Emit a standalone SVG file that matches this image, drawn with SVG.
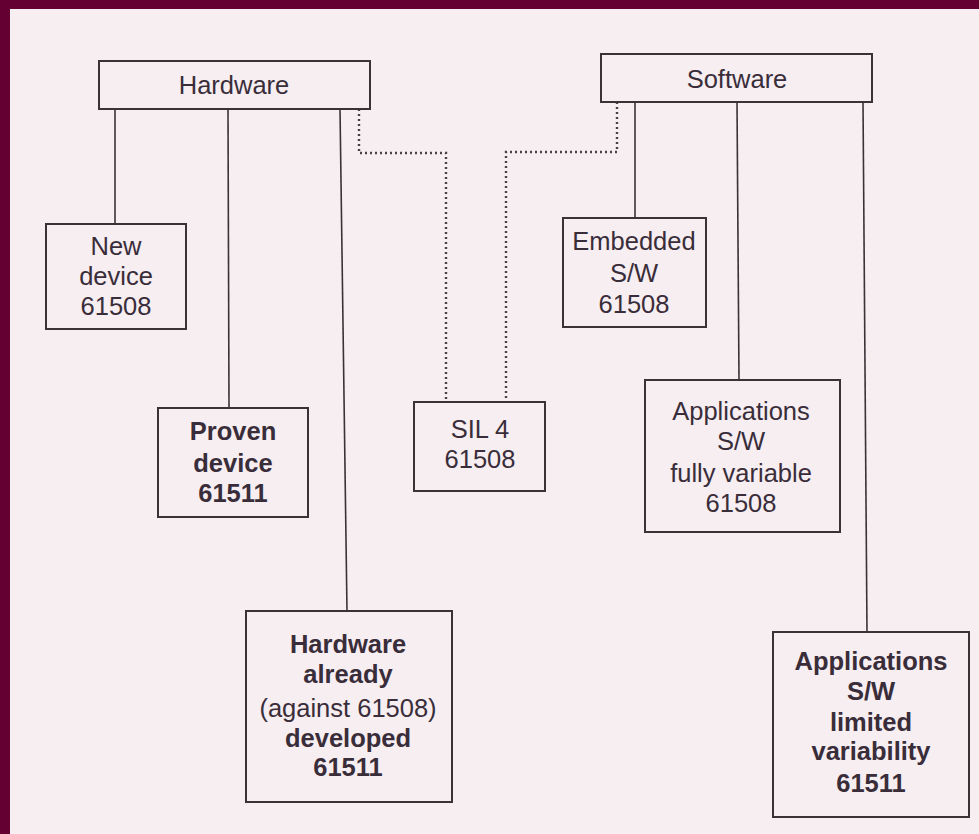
<svg xmlns="http://www.w3.org/2000/svg" width="979" height="834" viewBox="0 0 979 834">
<style>
.box{fill:none;stroke:#3b3238;stroke-width:2}
.ln{fill:none;stroke:#3b3238;stroke-width:1.6}
.dot{fill:none;stroke:#4a4048;stroke-width:2.4;stroke-dasharray:2 3}
text{font-family:"Liberation Sans",Arial,Helvetica,sans-serif;font-size:25.5px;fill:#3a2d3a;text-anchor:middle}
.b{font-weight:bold}
</style>
<rect x="0" y="0" width="979" height="834" fill="#f6eef1"/>
<rect x="0" y="0" width="979" height="9" fill="#650032"/>
<rect x="0" y="0" width="10" height="834" fill="#650032"/>
<g id="connectors">
<line class="ln" x1="115" y1="109" x2="115" y2="224"/>
<line class="ln" x1="228" y1="109" x2="229" y2="408"/>
<line class="ln" x1="340" y1="109" x2="347" y2="611"/>
<polyline class="dot" points="359,109 359,153 446,153 446,402"/>
<polyline class="dot" points="617,102 617,152 506,152 506,402"/>
<line class="ln" x1="635" y1="102" x2="635" y2="218"/>
<line class="ln" x1="737" y1="102" x2="739" y2="380"/>
<line class="ln" x1="863" y1="102" x2="867" y2="632"/>
</g>
<g id="hardware">
<rect class="box" x="99" y="61" width="271" height="48" fill="#f8f1f4"/>
<text x="234" y="94">Hardware</text>
</g>
<g id="software">
<rect class="box" x="601" y="54" width="271" height="48" fill="#f8f1f4"/>
<text x="737" y="88">Software</text>
</g>
<g id="new-device">
<rect class="box" x="46" y="224" width="140" height="105"/>
<text x="116" y="255">New</text>
<text x="116" y="285">device</text>
<text x="116" y="315">61508</text>
</g>
<g id="proven-device">
<rect class="box" x="158" y="408" width="150" height="109"/>
<text class="b" x="233" y="440">Proven</text>
<text class="b" x="233" y="472">device</text>
<text class="b" x="233" y="502">61511</text>
</g>
<g id="hardware-already">
<rect class="box" x="246" y="611" width="206" height="191"/>
<text class="b" x="348" y="653">Hardware</text>
<text class="b" x="348" y="683">already</text>
<text x="348" y="717">(against 61508)</text>
<text class="b" x="348" y="747">developed</text>
<text class="b" x="348" y="776">61511</text>
</g>
<g id="sil4">
<rect class="box" x="414" y="402" width="131" height="89"/>
<text x="480" y="438">SIL 4</text>
<text x="480" y="468">61508</text>
</g>
<g id="embedded">
<rect class="box" x="563" y="218" width="143" height="109"/>
<text x="634" y="250">Embedded</text>
<text x="634" y="282">S/W</text>
<text x="634" y="313">61508</text>
</g>
<g id="apps-fully">
<rect class="box" x="645" y="380" width="195" height="152"/>
<text x="741" y="420">Applications</text>
<text x="741" y="450">S/W</text>
<text x="741" y="482">fully variable</text>
<text x="741" y="512">61508</text>
</g>
<g id="apps-limited">
<rect class="box" x="773" y="632" width="196" height="185"/>
<text class="b" x="871" y="670">Applications</text>
<text class="b" x="871" y="700">S/W</text>
<text class="b" x="871" y="731">limited</text>
<text class="b" x="871" y="760">variability</text>
<text class="b" x="871" y="792">61511</text>
</g>
</svg>
